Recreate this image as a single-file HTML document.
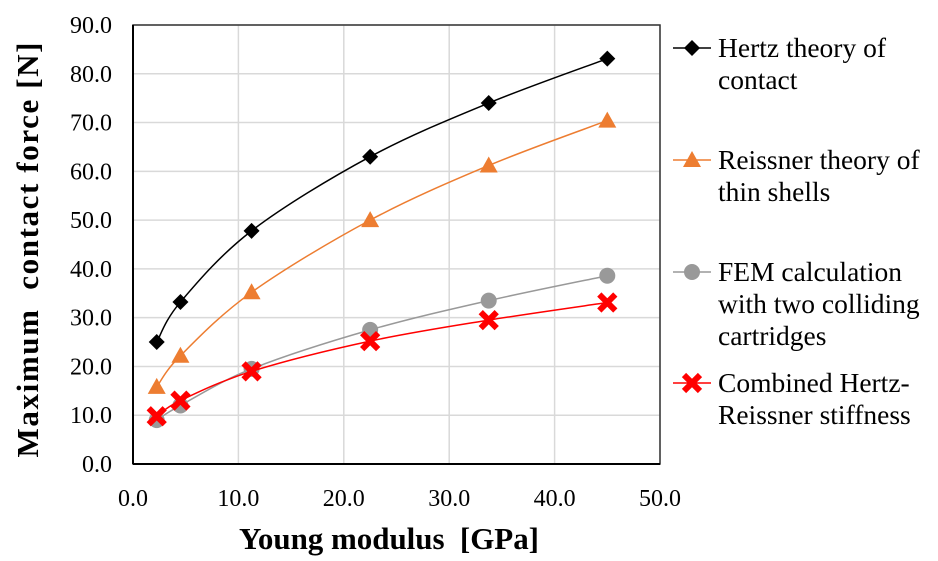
<!DOCTYPE html>
<html><head><meta charset="utf-8"><style>
body{margin:0;background:#fff;}
svg text{font-family:"Liberation Serif",serif;}
</style></head><body>
<svg id="chart" width="938" height="556" xmlns="http://www.w3.org/2000/svg">
<g id="grid"></g><g id="axes"></g><g id="series"></g><g id="legend"></g>
<text transform="translate(38,250) rotate(-90)" text-anchor="middle" font-size="31" font-weight="bold" textLength="415" lengthAdjust="spacing" xml:space="preserve">Maximum  contact force [N]</text>
<text x="389" y="549" text-anchor="middle" font-size="31" font-weight="bold" textLength="300" lengthAdjust="spacing" xml:space="preserve">Young modulus  [GPa]</text>
</svg>
<script>
const xVals=[2.25,4.5,11.25,22.5,33.75,45];
const hertz=[25,33.2,47.8,63,74,83.1];
const reissner=[15.8,22.2,35.2,50,61.2,70.4];
const fem=[9,12,19.5,27.5,33.5,38.6];
const combined=[9.8,13,19,25.2,29.5,33.1];
const yTicks=[0,10,20,30,40,50,60,70,80,90];
const xTicks=[0,10,20,30,40,50];
const seriesNames=[["Hertz theory of","contact"],["Reissner theory of","thin shells"],["FEM calculation","with two colliding","cartridges"],["Combined Hertz-","Reissner stiffness"]];
const NS="http://www.w3.org/2000/svg";
const X0=133,X1=660,Y0=464,Y1=25;
const sx=v=>X0+(v-0)/(50-0)*(X1-X0);
const sy=v=>Y0-(v-0)/(90-0)*(Y0-Y1);
function mk(t,a,p){const e=document.createElementNS(NS,t);for(const k in a)e.setAttribute(k,a[k]);p.appendChild(e);return e;}
const grid=document.getElementById('grid'),axes=document.getElementById('axes'),ser=document.getElementById('series'),leg=document.getElementById('legend');
yTicks.forEach(v=>{const l=mk('line',{x1:X0,x2:X1,y1:sy(v),y2:sy(v),stroke:'#d9d9d9','stroke-width':1.5},grid);

const t=mk('text',{x:112,y:sy(v)+8,'text-anchor':'end','font-size':24},axes);t.textContent=v.toFixed(1);
});
xTicks.forEach(v=>{const l=mk('line',{x1:sx(v),x2:sx(v),y1:Y1,y2:Y0,stroke:'#d9d9d9','stroke-width':1.5},grid);

const t=mk('text',{x:sx(v),y:506,'text-anchor':'middle','font-size':24},axes);t.textContent=v.toFixed(1);
});
const box=mk('rect',{x:X0,y:Y1,width:X1-X0,height:Y0-Y1,fill:'none',stroke:'#333','stroke-width':1.5},axes);

const xa=mk('line',{x1:X0,x2:X1,y1:Y0,y2:Y0,stroke:'#000','stroke-width':2},axes);

const ya=mk('line',{x1:X0,x2:X0,y1:Y1,y2:Y0,stroke:'#000','stroke-width':2},axes);

function smooth(pts){let d=`M${pts[0][0]},${pts[0][1]}`;for(let i=0;i<pts.length-1;i++){const p0=pts[i-1]||pts[i],p1=pts[i],p2=pts[i+1],p3=pts[i+2]||p2;
const c1=[p1[0]+(p2[0]-p0[0])/6,p1[1]+(p2[1]-p0[1])/6],c2=[p2[0]-(p3[0]-p1[0])/6,p2[1]-(p3[1]-p1[1])/6];
d+=` C${c1[0]},${c1[1]} ${c2[0]},${c2[1]} ${p2[0]},${p2[1]}`;}return d;}
function marker(type,x,y,g,col){let e;
if(type==='diamond')e=mk('path',{d:`M${x},${y-8}L${x+8},${y}L${x},${y+8}L${x-8},${y}Z`,fill:col},g);
else if(type==='tri')e=mk('path',{d:`M${x},${y-9}L${x+9},${y+7}L${x-9},${y+7}Z`,fill:col},g);
else if(type==='circle')e=mk('circle',{cx:x,cy:y,r:8,fill:col},g);
else {e=mk('path',{d:`M${x-8},${y-8}L${x+8},${y+8}M${x+8},${y-8}L${x-8},${y+8}`,stroke:col,'stroke-width':6},g);}
return e;}
const defs=[[hertz,'#000','diamond'],[reissner,'#ed7d31','tri'],[fem,'#999','circle'],[combined,'#f00','x']];
const names=['hertz','reissner','fem','combined'];
defs.forEach(([vals,col,m],si)=>{
const g=mk('g',{},ser);
const pts=xVals.map((x,i)=>[sx(x),sy(vals[i])]);
const p=mk('path',{d:smooth(pts),fill:'none',stroke:col,'stroke-width':1.5},g);

pts.forEach(pt=>{const e=marker(m,pt[0],pt[1],g,col);});
});
const legY=[48,160,272,383];
seriesNames.forEach((lines,si)=>{const [vals,col,m]=defs[si];
const g=mk('g',{},leg);
const y=legY[si];mk('line',{x1:673,x2:711,y1:y,y2:y,stroke:col,'stroke-width':1.5},g);marker(m,692,y,g,col);
lines.forEach((s,j)=>{const t=mk('text',{x:718,y:y+9+j*32,'font-size':27.5},g);t.textContent=s;});});
</script>
</body></html>
